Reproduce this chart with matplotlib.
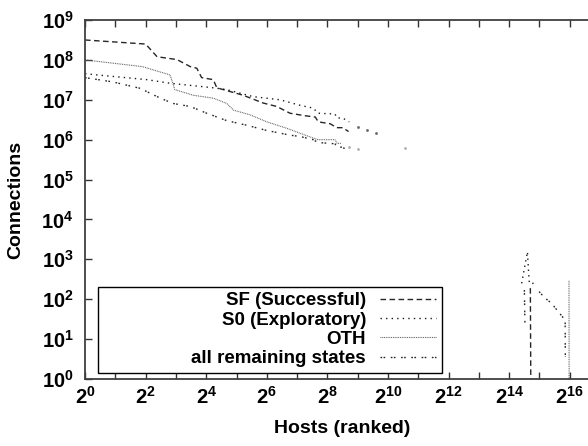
import numpy as np
import matplotlib
matplotlib.use("Agg")
import matplotlib.pyplot as plt
from matplotlib.patches import Rectangle

plt.rcParams['font.family'] = ['Liberation Sans', 'DejaVu Sans']
plt.rcParams['font.weight'] = 'bold'
plt.rcParams['mathtext.fontset'] = 'custom'
plt.rcParams['mathtext.rm'] = 'Liberation Sans:bold'
plt.rcParams['mathtext.it'] = 'Liberation Sans:bold'
plt.rcParams['mathtext.bf'] = 'Liberation Sans:bold'

nan = np.nan

# ranked hosts -> connections
sf_rank = [1, 4, 5.2, 8.2, 11.1, 12.9, 14.4, 18.8, 20.4, 25.6, 37.3, 58.9, 80.4, 109,
           152, 194, 208, 274, 315, 362, 416, nan, 26600, 26900]
sf_conn = [3.16e8, 2.5e8, 1.2e8, 1.02e8, 6.8e7, 6.2e7, 3.6e7, 3.2e7, 2.0e7, 1.7e7, 1.3e7,
           8.3e6, 6.8e6, 4.6e6, 4.0e6, 3.7e6, 2.8e6, 2.5e6, 2.0e6, 2.0e6, 1.6e6, nan, 190, 0.5]

s0_rank = [1, 4.1, 7.0, 18.8, 25.6, 46.8, 86.8, 142, 185, 207, 304, 320, 362, 422,
           nan, 21800, 24900, 25400, 26000, 31200]
s0_conn = [4.5e7, 3.2e7, 2.6e7, 2.0e7, 1.8e7, 1.2e7, 1.0e7, 7.1e6, 6.2e6, 4.6e6, 4.4e6,
           3.5e6, 3.5e6, 2.8e6, nan, 250, 1550, 600, 250, 250]
s0_sparse_rank = [516, 630, 776]
s0_sparse_conn = [2.1e6, 1.7e6, 1.45e6]

oth_rank = [1, 3.7, 7.0, 7.8, 11.9, 18.8, 25.6, 29.9, 43.7, 64, 100, 137, 185, 207,
            304, 320, 350, nan, 64400, 64600]
oth_conn = [1e8, 6.8e7, 4.2e7, 1.8e7, 1.3e7, 1.1e7, 8.1e6, 5.5e6, 4.2e6, 2.8e6, 1.95e6,
            1.45e6, 1.1e6, 1.0e6, 1.0e6, 8.1e5, 8.1e5, nan, 290, 0.5]
oth_sparse_rank = [422, 512, 1510]
oth_sparse_conn = [6.6e5, 5.9e5, 6.3e5]

rem_rank = [1, 1.9, 3.5, 5.6, 7.5, 11.1, 16.2, 25.6, 40.5, 64, 109, 137, 185, 207,
            304, 320, 350, 422, nan, 23200, 23500, nan, 32500, 36800, 43200, 50300,
            59000, 59200]
rem_conn = [3.6e7, 2.8e7, 1.95e7, 1.1e7, 8.1e6, 6.8e6, 4.6e6, 3.0e6, 2.3e6, 1.7e6,
            1.3e6, 1.2e6, 1.0e6, 8.5e5, 7.9e5, 6.5e5, 6.5e5, 5.5e5, nan, 170, 25, nan,
            155, 110, 79, 49, 30, 3.6]

labels = ["SF (Successful)", "S0 (Exploratory)", "OTH", "all remaining states"]

fig = plt.figure(figsize=(5.88, 4.46), dpi=100)
ax = fig.add_axes([0.1446, 0.1502, 0.8759, 0.8049])

l1, = ax.plot(sf_rank, sf_conn, color='0.15', lw=1.0, dashes=(4, 2.5))
l2, = ax.plot(s0_rank, s0_conn, color='0.1', lw=1.0, dashes=(1, 3))
l3, = ax.plot(oth_rank, oth_conn, color='0.35', lw=0.8, dashes=(0.8, 0.8))
l4, = ax.plot(rem_rank, rem_conn, color='0.15', lw=1.0, dashes=(1.2, 1, 1.2, 4))
ax.plot(s0_sparse_rank, s0_sparse_conn, ls='none', marker='s', ms=0.9, color='0.4')
ax.plot(oth_sparse_rank, oth_sparse_conn, ls='none', marker='s', ms=0.8, color='0.65')

ax.set_xscale('log', base=2)
ax.set_yscale('log')
ax.set_xlim(1, 2**17)
ax.set_ylim(1, 1e9)

xt = [2**k for k in range(0, 18)]
ax.set_xticks(xt)
ax.set_xticklabels([r'$2^{%d}$' % k if k % 2 == 0 and k <= 16 else '' for k in range(0, 18)])
yt = [10**k for k in range(0, 10)]
ax.set_yticks(yt)
ax.set_yticklabels([r'$10^{%d}$' % k for k in range(0, 10)])
ax.minorticks_off()
ax.tick_params(direction='in', length=5, width=1, color='0.2', top=True, right=True,
               labelsize=14.5)
ax.tick_params(axis='x', pad=5)
ax.tick_params(axis='y', pad=8)
for s in ax.spines.values():
    s.set_linewidth(1.3)
    s.set_color('0.25')

ax.set_xlabel("Hosts (ranked)", fontsize=14, fontweight='bold')
ax.set_ylabel("Connections", fontsize=14, fontweight='bold')
ax.xaxis.set_label_coords(0.5, -0.115)
ax.yaxis.set_label_coords(-0.118, 0.5)

# legend box like gnuplot
ax.add_patch(Rectangle((0.025, 0.017), 0.668, 0.239, transform=ax.transAxes,
                       fill=True, facecolor='white', edgecolor='black', lw=1.0, zorder=5))
leg = ax.legend([l1, l2, l3, l4], labels, loc='lower right', bbox_to_anchor=(0.693, 0.017),
                frameon=False, markerfirst=False, fontsize=13.5, handlelength=3.0,
                handletextpad=0.75, labelspacing=0.12, borderpad=0.3, borderaxespad=0)
leg.set_zorder(6)
for t in leg.get_texts():
    t.set_fontweight('bold')

fig.savefig("out.png", dpi=100)
